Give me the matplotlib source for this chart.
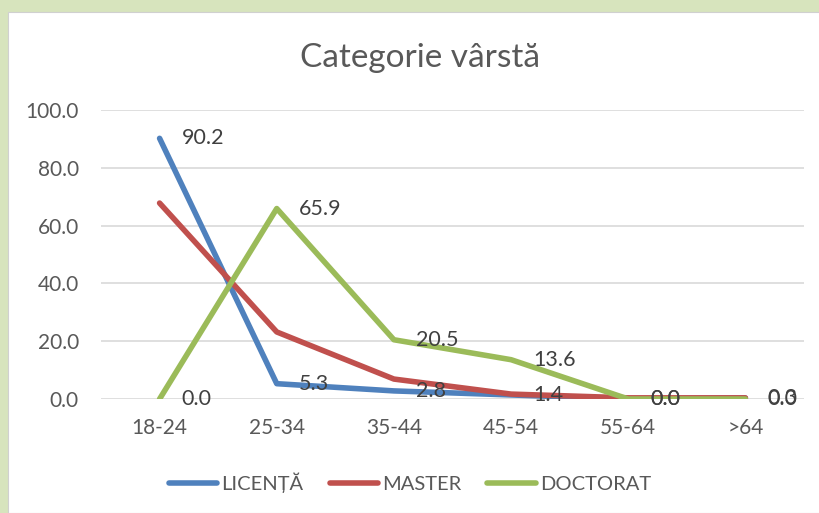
import matplotlib.pyplot as plt
from matplotlib.patches import Rectangle

categorii = ['18-24', '25-34', '35-44', '45-54', '55-64', '>64']
licenta = [90.2, 5.3, 2.8, 1.4, 0.0, 0.3]
master = [67.8, 23.2, 6.9, 1.7, 0.4, 0.4]
doctorat = [0.0, 65.9, 20.5, 13.6, 0.0, 0.0]

plt.rcParams['font.family'] = ['Lato', 'DejaVu Sans']

fig = plt.figure(figsize=(8.19, 5.13), dpi=100, facecolor='#D7E4BD')
fig.add_artist(Rectangle((8 / 819, 0), 1, 1 - 12 / 513, transform=fig.transFigure,
                         facecolor='white', edgecolor='#D0D0D0', lw=0.8, zorder=-10))
ax = fig.add_axes([101 / 819, 1 - 399 / 513, 703 / 819, 289 / 513])
ax.set_facecolor('none')

x = list(range(len(categorii)))
ax.plot(x, licenta, color='#4F81BD', lw=4, solid_capstyle='round', label='LICENȚĂ', zorder=3)
ax.plot(x, master, color='#C0504D', lw=4, solid_capstyle='round', label='MASTER', zorder=3)
ax.plot(x, doctorat, color='#9BBB59', lw=4, solid_capstyle='round', label='DOCTORAT', zorder=4)

# etichete de date (doar LICENȚĂ si DOCTORAT)
for serie in (licenta, doctorat):
    for xi, v in zip(x, serie):
        ax.annotate(f'{v:.1f}', (xi, v), xytext=(22, 0), textcoords='offset pixels',
                    ha='left', va='center', fontsize=15.5, color='#404040', zorder=5)

ax.set_xlim(-0.5, len(categorii) - 0.5)
ax.set_ylim(0, 100)
ax.set_yticks(range(0, 101, 20))
ax.set_yticklabels([f'{v:.1f}' for v in range(0, 101, 20)])
ax.set_xticks(x)
ax.set_xticklabels(categorii)
ax.tick_params(length=0, labelsize=15, labelcolor='#595959')
ax.tick_params(axis='x', pad=14)
ax.tick_params(axis='y', pad=16)
ax.grid(axis='y', color='#D9D9D9', lw=1.2, zorder=0)
ax.set_axisbelow(True)
for s in ax.spines.values():
    s.set_visible(False)

fig.text(420 / 819, 1 - 58 / 513, 'Categorie vârstă', ha='center', va='center',
         fontsize=24, color='#595959')

ax.legend(loc='center', bbox_to_anchor=(410 / 819, 1 - 483 / 513),
          bbox_transform=fig.transFigure, ncol=3, frameon=False, fontsize=14.5,
          labelcolor='#595959', handlelength=2.4, handletextpad=0.2, columnspacing=1.3)

fig.savefig('out.png', dpi=100, facecolor=fig.get_facecolor())
